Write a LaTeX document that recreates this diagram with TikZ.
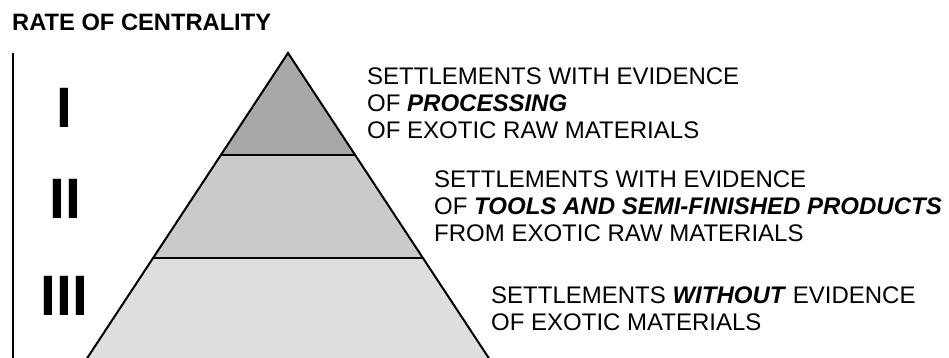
\documentclass[tikz,border=0pt]{standalone}
\usepackage{fontspec}
\setmainfont{Liberation Sans}
\definecolor{tierA}{RGB}{168,168,168}
\definecolor{tierB}{RGB}{202,202,202}
\definecolor{tierC}{RGB}{222,222,222}
\tikzset{
  bodytext/.style={anchor=base west, inner sep=0pt, font=\fontsize{24}{24}\selectfont},
  titletext/.style={anchor=base west, inner sep=0pt, font=\fontsize{23.7}{24}\selectfont\bfseries},
  numeral/.style={inner sep=0pt, font=\fontsize{57}{57}\selectfont\bfseries},
  edge/.style={line width=2pt, line join=miter}
}
\newcommand{\emphbi}[1]{\textbf{\textit{#1}}}
\begin{document}
\begin{tikzpicture}[x=1pt,y=-1pt]
\useasboundingbox (0,0) rectangle (949,358);
% title
\node[titletext] (title) at (12,31) {RATE OF CENTRALITY};
% axis line
\coordinate (axtop) at (13,53);
\coordinate (axbot) at (13,358);
\draw[line width=2pt] (axtop) -- (axbot);
% numerals
\node[numeral] (n1) at (64.5,107.5) {I};
\node[numeral] (n2) at (65,199) {II};
\node[numeral] (n3) at (64.5,296) {III};
% pyramid
\begin{scope}
\clip (0,0) rectangle (949,358);
\coordinate (apex) at (288,53);
\coordinate (l1) at (220.8,155);
\coordinate (r1) at (355.2,155);
\coordinate (l2) at (152.9,258);
\coordinate (r2) at (423.1,258);
\coordinate (l3) at (82,366);
\coordinate (r3) at (494,366);
\fill[tierA] (apex) -- (r1) -- (l1) -- cycle;
\fill[tierB] (l1) -- (r1) -- (r2) -- (l2) -- cycle;
\fill[tierC] (l2) -- (r2) -- (r3) -- (l3) -- cycle;
\draw[edge] (l1) -- (r1);
\draw[edge] (l2) -- (r2);
\draw[edge] (l3) -- (apex) -- (r3);
\end{scope}
% texts
\node[bodytext] (a1) at (367,85) {SETTLEMENTS WITH EVIDENCE};
\node[bodytext] (a2) at (367,112) {OF \emphbi{PROCESSING}};
\node[bodytext] (a3) at (367,139) {OF EXOTIC RAW MATERIALS};
\node[bodytext] (b1) at (434,187) {SETTLEMENTS WITH EVIDENCE};
\node[bodytext] (b2) at (434,214) {OF \emphbi{TOOLS AND SEMI-FINISHED PRODUCTS}};
\node[bodytext] (b3) at (434,241) {FROM EXOTIC RAW MATERIALS};
\node[bodytext] (c1) at (491,303) {SETTLEMENTS \emphbi{WITHOUT} EVIDENCE};
\node[bodytext] (c2) at (491,330) {OF EXOTIC MATERIALS};
\end{tikzpicture}
\end{document}
